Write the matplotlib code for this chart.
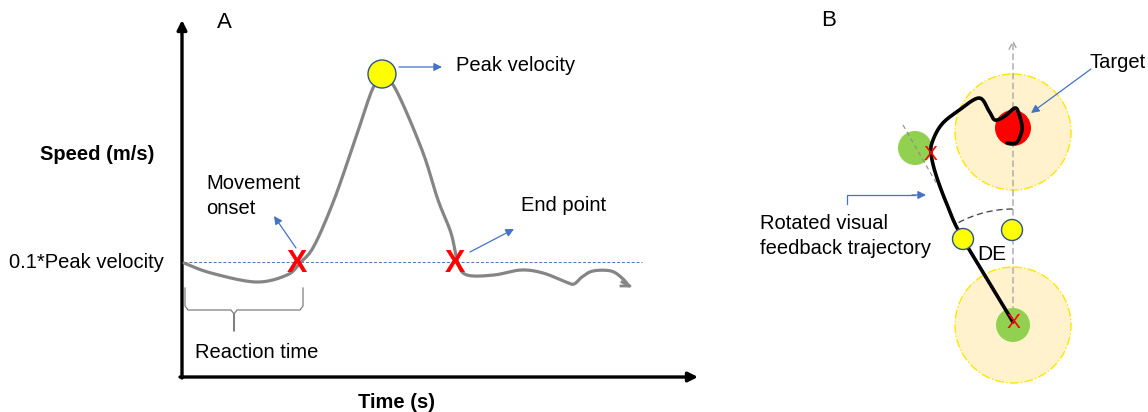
import numpy as np
import matplotlib.pyplot as plt
from matplotlib.patches import Circle, Arc, FancyArrowPatch

plt.rcParams['font.family'] = ['Liberation Sans', 'DejaVu Sans']

# ---- panel A: speed profile (canvas pixel coordinates) ----
speed_x = [184, 211, 256, 287, 300, 314, 334, 355, 373, 383, 395, 422, 438, 451,
           458, 467, 494, 521, 543, 566, 574, 582, 593, 611, 622, 629]
speed_y = [263, 273, 282, 275, 263, 246, 200, 140, 88, 81, 88, 150, 200, 233,
           263, 275, 275, 270, 273, 282, 284, 277, 271, 271, 278, 286]
threshold_y = 262
onset_x, end_x = 297, 455
peak_xy = (382, 74)

# ---- panel B: reach trajectory ----
start_xy = (1013, 325)
target_xy = (1013, 128)
cursor_xy = (915, 148)
traj_x = [1013, 963, 948, 936, 931, 933, 942, 958, 979, 989, 995, 1005, 1015,
          1019, 1022, 1021, 1016, 1007]
traj_y = [322, 239, 207, 175, 153, 140, 124, 111, 98, 111, 120, 116, 108,
          114, 126, 134, 143, 143]
de_xy = [(963, 239), (1012, 230)]
arc_radius = 116
arc_deg = (90, 118)

BLUE = '#4472C4'


def smooth(xs, ys, n=12):
    # Catmull-Rom pass through the given points for a hand-drawn look
    p = np.column_stack([xs, ys]).astype(float)
    p = np.vstack([p[0], p, p[-1]])
    out = []
    for i in range(1, len(p) - 2):
        p0, p1, p2, p3 = p[i - 1], p[i], p[i + 1], p[i + 2]
        t = np.linspace(0, 1, n, endpoint=False)[:, None]
        out.append(0.5 * ((2 * p1) + (-p0 + p2) * t + (2 * p0 - 5 * p1 + 4 * p2 - p3) * t ** 2
                          + (-p0 + 3 * p1 - 3 * p2 + p3) * t ** 3))
    out.append(p[-2][None, :])
    out = np.vstack(out)
    return out[:, 0], out[:, 1]


def arrow(ax, a, b, color=BLUE, lw=0.9, head=12):
    ax.add_patch(FancyArrowPatch(a, b, arrowstyle='-|>', mutation_scale=head,
                                 color=color, lw=lw, shrinkA=0, shrinkB=0))


fig = plt.figure(figsize=(11.48, 4.12), dpi=100)
ax = fig.add_axes([0, 0, 1, 1])
ax.set_xlim(0, 1148)
ax.set_ylim(412, 0)
ax.axis('off')

# axes of panel A
ax.add_patch(FancyArrowPatch((182, 378), (182, 20), arrowstyle='-|>', mutation_scale=14,
                             color='black', lw=2.4, shrinkA=0, shrinkB=0))
ax.add_patch(FancyArrowPatch((180, 377), (698, 377), arrowstyle='-|>', mutation_scale=14,
                             color='black', lw=2.4, shrinkA=0, shrinkB=0))
ax.text(224, 22, 'A', fontsize=16, ha='center', va='center')
ax.text(97, 155, 'Speed (m/s)', fontsize=14.5, fontweight='bold', ha='center', va='center')
ax.text(396, 402, 'Time (s)', fontsize=14.5, fontweight='bold', ha='center', va='center')
ax.text(9, 262, '0.1*Peak velocity', fontsize=14.5, ha='left', va='center')

ax.plot([184, 642], [threshold_y, threshold_y], color=BLUE, lw=0.7, ls=(0, (3, 2)))
sx, sy = smooth(speed_x, speed_y)
ax.plot(sx, sy, color='#858585', lw=2.3, solid_capstyle='round')
ax.plot([622, 630, 621], [282, 286, 286], color='#858585', lw=2.0)

ax.add_patch(Circle(peak_xy, 14, fc='#FFFF00', ec='#2F528F', lw=1.0, zorder=5))
for x in (onset_x, end_x):
    ax.text(x, threshold_y + 2, 'X', color='#FF0000', fontsize=22, fontweight='bold',
            ha='center', va='center', zorder=6)

arrow(ax, (399, 67), (442, 67))
ax.text(456, 65, 'Peak velocity', fontsize=14.5, ha='left', va='center')
arrow(ax, (296, 248), (274, 216))
ax.text(206, 183, 'Movement', fontsize=14.5, ha='left', va='center')
ax.text(206, 208, 'onset', fontsize=14.5, ha='left', va='center')
arrow(ax, (470, 252), (514, 229))
ax.text(521, 205, 'End point', fontsize=14.5, ha='left', va='center')

# reaction time brace
brace_x = [185, 185, 188, 231, 234, 234, 234, 237, 300, 303, 303]
brace_y = [288, 306, 310, 310, 314, 331, 314, 310, 310, 306, 288]
ax.plot(brace_x, brace_y, color='#7f7f7f', lw=0.9)
ax.text(257, 352, 'Reaction time', fontsize=14.5, ha='center', va='center')

# ---- panel B ----
ax.text(829, 20, 'B', fontsize=16, ha='center', va='center')
for c in (target_xy, start_xy):
    ax.add_patch(Circle((c[0], c[1] + 4 if c == target_xy else c[1]), 58,
                        fc='#FFF2CC', ec='#FFE600', lw=1.0, ls='-.', zorder=1))
ax.add_patch(FancyArrowPatch((1013, 322), (1013, 40), arrowstyle='->', mutation_scale=14,
                             color='#a6a6a6', lw=1.0, ls=(0, (4, 3)), shrinkA=0, shrinkB=0,
                             zorder=2))
ax.add_patch(Circle(target_xy, 18, fc='#FF0000', ec='none', zorder=3))
ax.add_patch(Circle(start_xy, 17, fc='#92D050', ec='none', zorder=3))
ax.add_patch(Circle(cursor_xy, 17, fc='#92D050', ec='none', zorder=3))
ax.plot([903, 938], [125, 186], color='#8c8c8c', lw=0.8, ls=(0, (4, 3)), zorder=4)

ax.add_patch(Arc(start_xy, 2 * arc_radius, 2 * arc_radius, theta1=-arc_deg[1],
                 theta2=-arc_deg[0], color='#404040', lw=0.9, ls=(0, (5, 3)), zorder=4))
tx, ty = smooth(traj_x, traj_y, n=10)
ax.plot(tx, ty, color='black', lw=2.6, solid_capstyle='round', solid_joinstyle='round', zorder=5)

for xy in ((930, 155), (1013, 322)):
    ax.text(xy[0], xy[1], 'X', color='#FF0000', fontsize=15, ha='center', va='center', zorder=6)
for xy in de_xy:
    ax.add_patch(Circle(xy, 10.5, fc='#FFFF00', ec='#2F528F', lw=1.0, zorder=7))
ax.text(992, 255, 'DE', fontsize=15, ha='center', va='center', zorder=7)

arrow(ax, (1091, 69), (1031, 113))
ax.text(1090, 62, 'Target', fontsize=14.5, ha='left', va='center')
ax.plot([847, 847, 915], [204, 195, 195], color=BLUE, lw=0.9)
arrow(ax, (912, 195), (926, 195))
ax.text(760, 223, 'Rotated visual', fontsize=14.5, ha='left', va='center')
ax.text(760, 248, 'feedback trajectory', fontsize=14.5, ha='left', va='center')

fig.savefig('out.png', dpi=100)
